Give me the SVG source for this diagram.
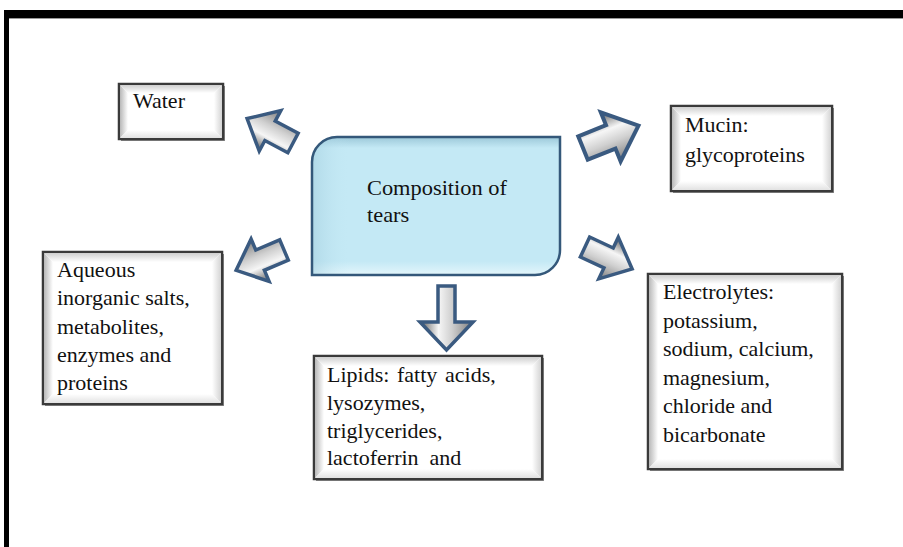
<svg xmlns="http://www.w3.org/2000/svg" width="903" height="547" viewBox="0 0 903 547">
<defs>
<style>
.box{fill:#fff;stroke:#3a3a3a;stroke-width:2.5}
.shadow{fill:#8a8a8a}
.bl{fill:url(#gl)}.bt{fill:url(#gt)}.br{fill:url(#gr)}.bb{fill:url(#gb)}
.t{font-family:"Liberation Serif","Times New Roman",serif;font-size:20px;fill:#111}
.arr{fill:url(#ga);stroke:#3a5a80;stroke-width:3.5;stroke-linejoin:miter}
.arrd{fill:url(#gad);stroke:#3a5a80;stroke-width:3.5;stroke-linejoin:miter}
</style>
<linearGradient id="gl" x1="0" y1="0" x2="1" y2="0"><stop offset="0" stop-color="#b8b8b8"/><stop offset="1" stop-color="#fff"/></linearGradient>
<linearGradient id="gt" x1="0" y1="0" x2="0" y2="1"><stop offset="0" stop-color="#cfcfcf"/><stop offset="1" stop-color="#fff"/></linearGradient>
<linearGradient id="gr" x1="0" y1="0" x2="1" y2="0"><stop offset="0" stop-color="#fff"/><stop offset="1" stop-color="#d4d4d4"/></linearGradient>
<linearGradient id="gb" x1="0" y1="0" x2="0" y2="1"><stop offset="0" stop-color="#fff"/><stop offset="1" stop-color="#e2e2e2"/></linearGradient>
<linearGradient id="ga" x1="0" y1="0" x2="0" y2="1"><stop offset="0" stop-color="#5e5e5e"/><stop offset="0.35" stop-color="#f6f6f6"/><stop offset="0.6" stop-color="#d0d0d0"/><stop offset="1" stop-color="#7c7c7c"/></linearGradient>
<linearGradient id="gad" x1="0" y1="0" x2="1" y2="0"><stop offset="0" stop-color="#5e5e5e"/><stop offset="0.35" stop-color="#f6f6f6"/><stop offset="0.6" stop-color="#d0d0d0"/><stop offset="1" stop-color="#7c7c7c"/></linearGradient>
<linearGradient id="gc" x1="0" y1="0" x2="0" y2="1"><stop offset="0" stop-color="#9cc8d9"/><stop offset="0.08" stop-color="#c4e9f5"/><stop offset="0.9" stop-color="#c4e9f5"/><stop offset="1" stop-color="#e4f6fb"/></linearGradient>
<linearGradient id="gcl" x1="0" y1="0" x2="1" y2="0"><stop offset="0" stop-color="#9cc8d9" stop-opacity="0.8"/><stop offset="1" stop-color="#c4e9f5" stop-opacity="0"/></linearGradient>
<path id="arrow" d="M0,-11 L26,-11 L26,-23 L52,0 L26,23 L26,11 L0,11 Z"/>
</defs>
<rect x="0" y="0" width="903" height="547" fill="#fff"/>
<!-- frame -->
<rect x="4" y="10" width="899" height="8" fill="#000"/>
<rect x="4" y="10" width="5" height="537" fill="#000"/>
<line x1="9" y1="18.5" x2="903" y2="18.5" stroke="#999" stroke-width="1"/>

<g id="connectors">
<use href="#arrow" class="arr" transform="translate(293,143) rotate(208)"/>
<use href="#arrow" class="arr" transform="translate(583,148) rotate(-22) scale(1.15)"/>
<use href="#arrow" class="arr" transform="translate(284,250) rotate(157)"/>
<use href="#arrow" class="arr" transform="translate(585,247) rotate(25)"/>
<path class="arrd" d="M438,286 H455 V322 H473 L446.5,350 L420,322 H438 Z"/>
</g>

<g id="center">
<path d="M337,137 H560 V250 A25,25 0 0 1 535,275 H312 V162 A25,25 0 0 1 337,137 Z" fill="url(#gc)"/>
<path d="M337,137 H350 V275 H312 V162 A25,25 0 0 1 337,137 Z" fill="url(#gcl)" opacity="0.6"/>
<path d="M337,137 H560 V250 A25,25 0 0 1 535,275 H312 V162 A25,25 0 0 1 337,137 Z" fill="none" stroke="#34587a" stroke-width="2.5"/>
<g transform="translate(367,195) scale(1.12,1)"><text class="t" font-size="20.5"><tspan x="0" y="0">Composition of</tspan><tspan x="0" y="27">tears</tspan></text></g>
</g>

<g id="water">
<rect class="shadow" x="121" y="86" width="104" height="55"/>
<rect class="box" x="119" y="84" width="104" height="55"/>
<polygon class="bl" points="120,85 128,93 128,130 120,138"/>
<polygon class="bt" points="120,85 222,85 214,93 128,93"/>
<polygon class="br" points="222,85 222,138 214,130 214,93"/>
<polygon class="bb" points="120,138 222,138 214,130 128,130"/>
<g transform="translate(133,108) scale(1.1,1)"><text class="t" x="0" y="0">Water</text></g>
</g>

<g id="mucin">
<rect class="shadow" x="673" y="108" width="161" height="85"/>
<rect class="box" x="671" y="106" width="161" height="85"/>
<polygon class="bl" points="672,107 681,116 681,181 672,190"/>
<polygon class="bt" points="672,107 831,107 822,116 681,116"/>
<polygon class="br" points="831,107 831,190 822,181 822,116"/>
<polygon class="bb" points="672,190 831,190 822,181 681,181"/>
<g transform="translate(685,132) scale(1.1,1)"><text class="t"><tspan x="0" y="0">Mucin:</tspan><tspan x="0" y="30">glycoproteins</tspan></text></g>
</g>

<g id="aqueous">
<rect class="shadow" x="45" y="254" width="179" height="152"/>
<rect class="box" x="43" y="252" width="179" height="152"/>
<polygon class="bl" points="44,253 53,262 53,394 44,403"/>
<polygon class="bt" points="44,253 221,253 212,262 53,262"/>
<polygon class="br" points="221,253 221,403 212,394 212,262"/>
<polygon class="bb" points="44,403 221,403 212,394 53,394"/>
<g transform="translate(57,277) scale(1.1,1)"><text class="t"><tspan x="0" y="0">Aqueous</tspan><tspan x="0" y="28.3">inorganic salts,</tspan><tspan x="0" y="56.6">metabolites,</tspan><tspan x="0" y="84.9">enzymes and</tspan><tspan x="0" y="113.2">proteins</tspan></text></g>
</g>

<g id="lipids">
<rect class="shadow" x="316" y="358" width="228" height="123"/>
<rect class="box" x="314" y="356" width="228" height="123"/>
<polygon class="bl" points="315,357 324,366 324,469 315,478"/>
<polygon class="bt" points="315,357 541,357 532,366 324,366"/>
<polygon class="br" points="541,357 541,478 532,469 532,366"/>
<polygon class="bb" points="315,478 541,478 532,469 324,469"/>
<g transform="translate(327,382) scale(1.1,1)"><text class="t"><tspan x="0" y="0" word-spacing="2">Lipids: fatty acids,</tspan><tspan x="0" y="27.8">lysozymes,</tspan><tspan x="0" y="55.6">triglycerides,</tspan><tspan x="0" y="83.4" word-spacing="5">lactoferrin and</tspan></text></g>
</g>

<g id="electrolytes">
<rect class="shadow" x="650" y="276" width="194" height="195"/>
<rect class="box" x="648" y="274" width="194" height="195"/>
<polygon class="bl" points="649,275 658,284 658,459 649,468"/>
<polygon class="bt" points="649,275 841,275 832,284 658,284"/>
<polygon class="br" points="841,275 841,468 832,459 832,284"/>
<polygon class="bb" points="649,468 841,468 832,459 658,459"/>
<g transform="translate(663,299) scale(1.1,1)"><text class="t"><tspan x="0" y="0">Electrolytes:</tspan><tspan x="0" y="28.6">potassium,</tspan><tspan x="0" y="57.2">sodium, calcium,</tspan><tspan x="0" y="85.8">magnesium,</tspan><tspan x="0" y="114.4">chloride and</tspan><tspan x="0" y="143">bicarbonate</tspan></text></g>
</g>
</svg>
